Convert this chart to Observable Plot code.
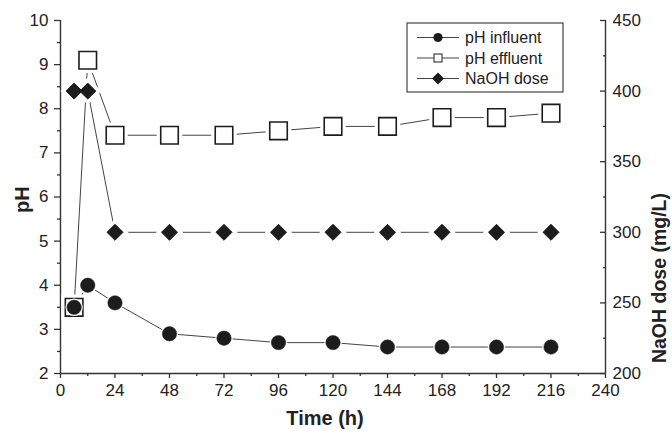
<!DOCTYPE html>
<html>
<head>
<meta charset="utf-8">
<script src="https://cdn.jsdelivr.net/npm/d3@7"></script>
<script src="https://cdn.jsdelivr.net/npm/@observablehq/plot@0.6"></script>
<style>
  html, body { margin: 0; padding: 0; background: #fff; }
</style>
</head>
<body>
<div id="chart"></div>
<script>
const hours = [6, 12, 24, 48, 72, 96, 120, 144, 168, 192, 216];
const phInfluent = [3.5, 4.0, 3.6, 2.9, 2.8, 2.7, 2.7, 2.6, 2.6, 2.6, 2.6];
const phEffluent = [3.5, 9.1, 7.4, 7.4, 7.4, 7.5, 7.6, 7.6, 7.8, 7.8, 7.9];
const naohDose = [400, 400, 300, 300, 300, 300, 300, 300, 300, 300, 300];

const xTicks = [0, 24, 48, 72, 96, 120, 144, 168, 192, 216, 240];
const xMinor = [12, 36, 60, 84, 108, 132, 156, 180, 204, 228];
const phTicks = [2, 3, 4, 5, 6, 7, 8, 9, 10];
const phMinor = [2.5, 3.5, 4.5, 5.5, 6.5, 7.5, 8.5, 9.5];
const naohTicks = [200, 250, 300, 350, 400, 450];
const naohMinor = [225, 275, 325, 375, 425];

const seriesNames = ["pH influent", "pH effluent", "NaOH dose"];

// right axis (NaOH 200–450) shares the frame with pH 2–10
const toPH = v => 2 + (v - 200) * 8 / 250;
const toNaOH = p => Math.round(200 + (p - 2) * 250 / 8);

const influent = hours.map((h, i) => ({h, v: phInfluent[i]}));
const effluent = hours.map((h, i) => ({h, v: phEffluent[i]}));
const naoh = hours.map((h, i) => ({h, v: toPH(naohDose[i])}));

const ink = "#1c1c1c";
const axisInk = "#333";

const svg = Plot.plot({
  width: 672,
  height: 431,
  marginLeft: 60,
  marginRight: 67,
  marginTop: 20,
  marginBottom: 58,
  style: {fontFamily: "'Liberation Sans', Arial, sans-serif", fontSize: "17px", color: "#222", background: "#fff"},
  x: {domain: [0, 240]},
  y: {domain: [2, 10]},
  marks: [
    // axis lines
    Plot.ruleX([0], {stroke: axisInk, strokeWidth: 1.4}),
    Plot.ruleX([240], {stroke: axisInk, strokeWidth: 1.4}),
    Plot.ruleY([2], {stroke: axisInk, strokeWidth: 1.4}),
    // bottom axis
    Plot.axisX({ticks: xTicks, tickSize: 5, tickPadding: 5, label: null, stroke: axisInk, strokeWidth: 1.3}),
    Plot.axisX({ticks: xMinor, tickSize: 3, text: null, label: null, stroke: axisInk, strokeWidth: 1.3}),
    // left axis
    Plot.axisY({ticks: phTicks, tickSize: 6, tickPadding: 6, label: null, stroke: axisInk, strokeWidth: 1.3}),
    Plot.axisY({ticks: phMinor, tickSize: 3, text: null, label: null, stroke: axisInk, strokeWidth: 1.3}),
    // right axis (inward ticks)
    Plot.axisY({anchor: "right", ticks: naohTicks.map(toPH), tickSize: 6, dx: -6, text: null, label: null, stroke: axisInk, strokeWidth: 1.3}),
    Plot.axisY({anchor: "right", ticks: naohMinor.map(toPH), tickSize: 3, dx: -3, text: null, label: null, stroke: axisInk, strokeWidth: 1.3}),
    Plot.axisY({anchor: "right", ticks: naohTicks.map(toPH), tickSize: 0, tickPadding: 7, tickFormat: toNaOH, label: null}),
    // axis titles
    Plot.text(["Time (h)"], {frameAnchor: "bottom", dx: -8, dy: 51, fontWeight: "bold", fontSize: 20, fill: "#222"}),
    Plot.text(["pH"], {frameAnchor: "left", rotate: -90, dx: -38, dy: 16, fontWeight: "bold", fontSize: 20, fill: "#222"}),
    Plot.text(["NaOH dose (mg/L)"], {frameAnchor: "right", rotate: -90, dx: 54, dy: -4, fontWeight: "bold", fontSize: 19.5, fill: "#222"}),
    // lines
    Plot.line(effluent, {x: "h", y: "v", stroke: "#444", strokeWidth: 1}),
    Plot.line(naoh, {x: "h", y: "v", stroke: "#444", strokeWidth: 1}),
    Plot.line(influent, {x: "h", y: "v", stroke: "#444", strokeWidth: 1}),
    // effluent squares (with white halo to give line gaps)
    Plot.dot(effluent, {x: "h", y: "v", symbol: "square", r: 9.9, fill: "#fff", stroke: "#fff", strokeWidth: 8}),
    Plot.dot(effluent, {x: "h", y: "v", symbol: "square", r: 9.9, fill: "#fff", stroke: ink, strokeWidth: 1.6}),
    // NaOH diamonds
    Plot.dot(naoh, {x: "h", y: "v", symbol: "diamond2", r: 7.2, fill: "#fff", stroke: "#fff", strokeWidth: 8}),
    Plot.dot(naoh, {x: "h", y: "v", symbol: "diamond2", r: 7.2, fill: ink, stroke: ink, strokeWidth: 1}),
    // influent circles
    Plot.dot(influent, {x: "h", y: "v", r: 7.2, fill: "#fff", stroke: "#fff", strokeWidth: 3}),
    Plot.dot(influent, {x: "h", y: "v", r: 7.2, fill: ink, stroke: ink, strokeWidth: 0.5})
  ]
});

// legend
const g = d3.select(svg).append("g")
  .attr("text-anchor", "start")
  .style("font-family", "'Liberation Sans', Arial, sans-serif")
  .style("font-size", "16px");
g.append("rect").attr("x", 407).attr("y", 23).attr("width", 156).attr("height", 69)
  .attr("fill", "#fff").attr("stroke", axisInk).attr("stroke-width", 1.1);
seriesNames.forEach((name, i) => {
  const y = 37.5 + i * 20.5;
  g.append("line").attr("x1", 417).attr("x2", 459).attr("y1", y).attr("y2", y)
    .attr("stroke", "#444").attr("stroke-width", 1);
  if (i === 0) {
    g.append("circle").attr("cx", 438).attr("cy", y).attr("r", 4.6).attr("fill", ink);
  } else if (i === 1) {
    g.append("rect").attr("x", 434).attr("y", y - 4).attr("width", 8).attr("height", 8)
      .attr("fill", "#fff").attr("stroke", ink).attr("stroke-width", 1);
  } else {
    g.append("path").attr("d", `M438,${y - 6}L444,${y}L438,${y + 6}L432,${y}Z`).attr("fill", ink);
  }
  g.append("text").attr("x", 465).attr("y", y).attr("dy", "0.35em")
    .attr("text-anchor", "start").style("font-size", "16px")
    .attr("fill", "#222").text(name);
});

document.getElementById("chart").appendChild(svg);
</script>
</body>
</html>
